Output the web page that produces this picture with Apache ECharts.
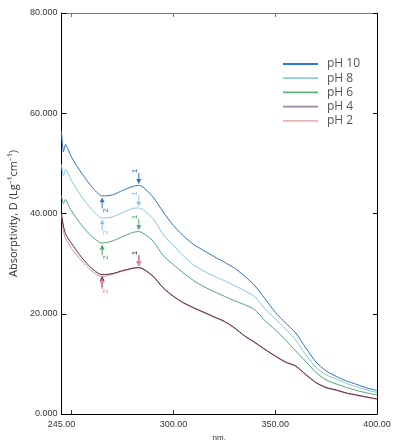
<!DOCTYPE html>
<html><head><meta charset="utf-8">
<script src="https://cdn.jsdelivr.net/npm/echarts@6/dist/echarts.min.js"></script>
<style>html,body{margin:0;padding:0;background:#fff}#c{width:395px;height:447px}</style>
</head><body><div id="c"></div>
<script>
// Wavelength (nm)
const wavelengths = [245,246,247,248,250,255,260,265,270,275,280,283,285,290,295,300,305,310,315,320,325,330,335,340,345,350,355,360,365,370,375,380,385,390,395,400];
const pH10 = [56.5,52.3,53.8,53.0,51.2,48.0,45.3,43.5,43.7,44.6,45.4,45.6,45.3,43.3,40.3,37.6,35.5,33.8,32.6,31.4,30.3,29.1,27.5,25.6,23.0,20.3,18.2,16.2,13.2,10.4,8.6,7.5,6.6,5.9,5.2,4.7];
const pH8  = [49.8,47.5,48.8,48.2,46.5,43.3,40.8,39.1,39.3,40.2,41.0,41.1,40.8,39.0,35.8,33.6,31.5,29.7,28.5,27.5,26.6,25.6,24.6,23.4,21.0,19.0,17.0,14.8,11.8,9.3,7.8,7.0,6.1,5.4,4.8,4.3];
const pH6  = [43.6,42.0,42.8,42.0,40.5,37.6,35.4,34.1,34.5,35.4,36.2,36.4,36.1,34.5,31.6,29.8,28.1,26.6,25.4,24.4,23.5,22.6,21.8,20.8,18.6,16.8,14.8,12.6,10.5,8.3,6.8,6.0,5.3,4.7,4.2,3.8];
const pH4  = [40.0,37.5,36.0,35.2,34.0,31.2,29.0,27.8,28.0,28.6,29.1,29.2,29.0,27.5,25.2,23.5,22.2,21.2,20.3,19.4,18.5,17.2,15.6,14.3,12.9,11.6,10.4,9.6,7.9,6.3,5.3,4.8,4.2,3.8,3.4,3.0];
const pH2  = [40.0,36.5,35.0,34.4,33.0,30.5,28.5,27.4,27.9,28.5,29.0,29.2,28.9,27.4,25.1,23.4,22.1,21.1,20.2,19.3,18.4,17.1,15.5,14.2,12.8,11.5,10.3,9.5,7.8,6.2,5.2,4.7,4.1,3.7,3.3,2.9];
const seriesNames = ['pH 10','pH 8','pH 6','pH 4','pH 2'];
const seriesColors = ['#3170bf','#86c6e6','#4fa66e','#4a2840','#e58a96'];
const legendColors = ['#2a78d4','#8fcbe8','#5cb07e','#9a8a9c','#e8b4bc'];
const xLabelValues = [245,300,350,400];
const xTickValues = [250,300,350];
// annotation wavelengths: peak ("1") and minimum ("2")
const peakWl = 283, minWl = 265;

const allSeries = [pH10,pH8,pH6,pH4,pH2];
const arrowPath = 'path://M4,0 L6,0 L6,9 L10,9 L5,16 L0,9 L4,9 Z';
const legendLinePath = 'path://M0,0 M35,12 M0,5.1 L35,5.1 L35,6.9 L0,6.9 Z';

function valAt(arr, wl){ return arr[wavelengths.indexOf(wl)]; }

function marks(i){
  const arr = allSeries[i];
  const c = seriesColors[i];
  const peak = {coord:[peakWl, valAt(arr,peakWl)], symbol:arrowPath, symbolSize:[5,11], symbolOffset:[0,-7],
    label:{show: i!==4, formatter:'1', position:'top', distance:2, rotate:90, fontSize:8, color:c}};
  const mn = {coord:[minWl, valAt(arr,minWl)], symbol:arrowPath, symbolRotate:180, symbolSize:[5,11], symbolOffset:[0,7],
    label:{show: i!==3, formatter:'2', position:'bottom', distance:2, rotate:90, fontSize:8, color:c}};
  return {silent:true, itemStyle:{color:c}, data:[peak, mn]};
}

const series = allSeries.map((arr,i)=>({
  name: seriesNames[i], type:'line', symbol:'none', showSymbol:false, smooth:0.25,
  data: wavelengths.map((w,j)=>[w, arr[j]]),
  lineStyle:{width:1, color:seriesColors[i]}, itemStyle:{color:legendColors[i]},
  z: i===3 ? 5 : (i===4 ? 4 : 3),
  markPoint: marks(i),
  animation:false
}));

const chart = echarts.init(document.getElementById('c'));
chart.setOption({
  backgroundColor:'#fff',
  animation:false,
  grid:{left:56, right:18, top:13, bottom:30},
  legend:{orient:'vertical', left:278, top:53, itemWidth:35, itemHeight:12, itemGap:2.2,
    data:seriesNames.map((n,i)=>({name:n, icon:legendLinePath, itemStyle:{color:legendColors[i], borderWidth:0}})),
    textStyle:{fontFamily:'Open Sans', fontSize:12, color:'#555', padding:[0,0,0,4]}},
  xAxis:[{type:'value', min:245, max:400, position:'bottom',
    name:'nm.', nameLocation:'middle', nameGap:20,
    nameTextStyle:{fontFamily:'Liberation Sans', fontSize:8, color:'#333'},
    axisLine:{onZero:false, lineStyle:{color:'#000', width:1}},
    axisTick:{inside:true, length:4, customValues:xTickValues, lineStyle:{color:'#333'}},
    axisLabel:{customValues:xLabelValues, formatter:v=>v.toFixed(2), margin:6, fontFamily:'Liberation Sans', fontSize:9, color:'#333'},
    splitLine:{show:false}},
   {type:'value', min:245, max:400, position:'top',
    axisLine:{onZero:false, lineStyle:{color:'#777', width:1}},
    axisTick:{inside:true, length:4, customValues:xTickValues, lineStyle:{color:'#777'}},
    axisLabel:{show:false}, splitLine:{show:false}}],
  yAxis:[{type:'value', min:0, max:80, interval:20, position:'left',
    name:'Absorptivity, D (Lg\u207B\u00B9cm\u207B\u00B9)', nameLocation:'middle', nameGap:38,
    nameTextStyle:{fontFamily:'Open Sans', fontSize:11, color:'#333'},
    axisLine:{show:true, onZero:false, lineStyle:{color:'#000', width:1}},
    axisTick:{show:true, inside:true, length:5, lineStyle:{color:'#000'}},
    axisLabel:{formatter:v=>v.toFixed(3), margin:4, fontFamily:'Liberation Sans', fontSize:9, color:'#333'},
    splitLine:{show:false}},
   {type:'value', min:0, max:80, interval:20, position:'right',
    axisLine:{show:true, onZero:false, lineStyle:{color:'#000', width:1}},
    axisTick:{show:true, inside:true, length:4, lineStyle:{color:'#000'}},
    axisLabel:{show:false}, splitLine:{show:false}}],
  series: series
});
</script>
</body></html>
